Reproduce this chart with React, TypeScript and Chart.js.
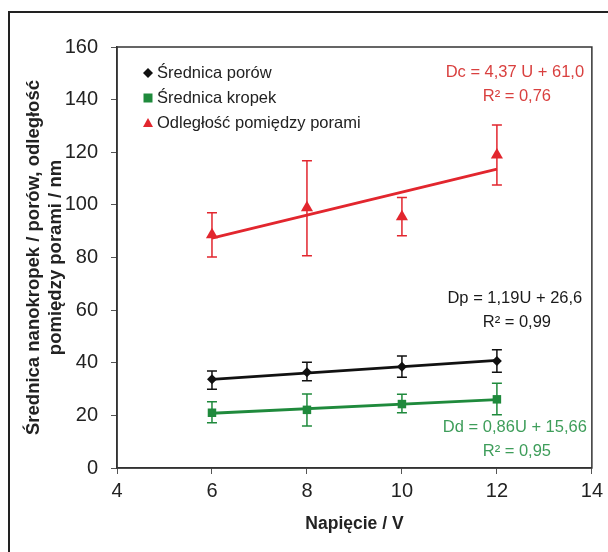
import React, { useEffect, useRef } from 'react';
import { Chart, registerables } from 'chart.js';

Chart.register(...registerables);

// ---- data ----
const voltages = [6, 8, 10, 12];

const poreMean = [33.7, 36.4, 38.5, 40.7];
const poreLow = [29.9, 33.2, 34.5, 36.4];
const poreHigh = [36.9, 40.2, 42.6, 44.9];

const dotMean = [21.0, 22.1, 24.3, 26.1];
const dotLow = [17.2, 16.0, 21.0, 20.2];
const dotHigh = [25.2, 28.1, 28.0, 32.2];

const distMean = [88.6, 98.9, 95.5, 119.0];
const distLow = [80.2, 80.7, 88.3, 107.6];
const distHigh = [97.0, 116.8, 102.8, 130.4];

const trendX = [6, 12];
const poreTrend = [33.7, 40.9];
const dotTrend = [20.8, 26.0];
const distTrend = [87.4, 113.6];

const seriesLabels = ['Średnica porów', 'Średnica kropek', 'Odległość pomiędzy porami'];
const poreEquation = ['Dp = 1,19U + 26,6', 'R² = 0,99'];
const dotEquation = ['Dd = 0,86U + 15,66', 'R² = 0,95'];
const distEquation = ['Dc = 4,37 U + 61,0', 'R² = 0,76'];

const xTitle = 'Napięcie / V';
const yTitle = ['Średnica nanokropek / porów, odległość', 'pomiędzy porami / nm'];

const xMin = 4, xMax = 14, xStep = 2;
const yMin = 0, yMax = 160, yStep = 20;

const FONT = '"Liberation Sans", Arial, sans-serif';
const BLACK = '#111111';
const GREEN = '#1f8a3c';
const RED = '#e2262e';

const pts = (xs: number[], ys: number[]) => xs.map((x, i) => ({ x, y: ys[i] }));

function drawMarker(ctx: CanvasRenderingContext2D, style: string, x: number, y: number, r: number, color: string) {
  ctx.save();
  ctx.fillStyle = color;
  ctx.beginPath();
  if (style === 'rectRot') {
    ctx.moveTo(x, y - r); ctx.lineTo(x + r, y); ctx.lineTo(x, y + r); ctx.lineTo(x - r, y);
  } else if (style === 'rect') {
    ctx.rect(x - r, y - r, 2 * r, 2 * r);
  } else {
    ctx.moveTo(x, y - r); ctx.lineTo(x + r, y + r * 0.8); ctx.lineTo(x - r, y + r * 0.8);
  }
  ctx.closePath();
  ctx.fill();
  ctx.restore();
}

const decorPlugin = {
  id: 'decor',
  beforeDatasetsDraw(chart: any) {
    const { ctx, scales } = chart;
    const xs = scales.x, ys = scales.y;
    chart.data.datasets.forEach((ds: any) => {
      if (!ds.errLow) return;
      ctx.save();
      ctx.strokeStyle = ds.errColor;
      ctx.lineWidth = 1.5;
      ds.data.forEach((p: any, i: number) => {
        const px = xs.getPixelForValue(p.x);
        const lo = ys.getPixelForValue(ds.errLow[i]);
        const hi = ys.getPixelForValue(ds.errHigh[i]);
        ctx.beginPath();
        ctx.moveTo(px, lo); ctx.lineTo(px, hi);
        ctx.moveTo(px - 5, lo); ctx.lineTo(px + 5, lo);
        ctx.moveTo(px - 5, hi); ctx.lineTo(px + 5, hi);
        ctx.stroke();
      });
      ctx.restore();
    });
  },
  afterDraw(chart: any) {
    const { ctx, chartArea } = chart;
    ctx.save();
    // outer frame
    ctx.strokeStyle = '#222';
    ctx.lineWidth = 2;
    ctx.beginPath();
    ctx.moveTo(9, 560); ctx.lineTo(9, 12); ctx.lineTo(620, 12);
    ctx.stroke();
    // plot box
    ctx.strokeStyle = '#333';
    ctx.lineWidth = 1.5;
    ctx.strokeRect(chartArea.left, chartArea.top, chartArea.right - chartArea.left, chartArea.bottom - chartArea.top);

    // legend
    ctx.font = `16.5px ${FONT}`;
    ctx.textBaseline = 'middle';
    ctx.textAlign = 'left';
    const legendX = chartArea.left + 31;
    chart.data.datasets.slice(0, 3).forEach((ds: any, i: number) => {
      const y = chartArea.top + 26 + i * 25;
      drawMarker(ctx, ds.pointStyle, legendX, y, ds.pointStyle === 'rect' ? 4.5 : 5, ds.backgroundColor);
      ctx.fillStyle = '#222';
      ctx.fillText(ds.label, legendX + 9, y);
    });

    // equations
    const eqs = [
      { lines: distEquation, color: '#d9403f', y: 72 },
      { lines: poreEquation, color: '#1a1a1a', y: 298 },
      { lines: dotEquation, color: '#3e9d5a', y: 427 },
    ];
    ctx.textAlign = 'center';
    ctx.font = `16.5px ${FONT}`;
    eqs.forEach((e) => {
      ctx.fillStyle = e.color;
      ctx.fillText(e.lines[0], chartArea.right - 77, e.y);
      ctx.fillText(e.lines[1], chartArea.right - 75, e.y + 24);
    });
    ctx.restore();
  },
};

export default function App() {
  const ref = useRef<HTMLCanvasElement | null>(null);
  useEffect(() => {
    if (!ref.current) return;
    const chart = new Chart(ref.current, {
      type: 'scatter',
      data: {
        datasets: [
          {
            label: seriesLabels[0], data: pts(voltages, poreMean), pointStyle: 'rectRot', pointRadius: 5,
            backgroundColor: BLACK, borderColor: BLACK, borderWidth: 0, showLine: false,
            errLow: poreLow, errHigh: poreHigh, errColor: BLACK,
          } as any,
          {
            label: seriesLabels[1], data: pts(voltages, dotMean), pointStyle: 'rect', pointRadius: 6,
            backgroundColor: GREEN, borderColor: GREEN, borderWidth: 0, showLine: false,
            errLow: dotLow, errHigh: dotHigh, errColor: GREEN,
          } as any,
          {
            label: seriesLabels[2], data: pts(voltages, distMean), pointStyle: 'triangle', pointRadius: 7,
            backgroundColor: RED, borderColor: RED, borderWidth: 0, showLine: false,
            errLow: distLow, errHigh: distHigh, errColor: RED,
          } as any,
          { label: 'trend Dp', data: pts(trendX, poreTrend), showLine: true, pointRadius: 0, borderColor: BLACK, borderWidth: 2.8 },
          { label: 'trend Dd', data: pts(trendX, dotTrend), showLine: true, pointRadius: 0, borderColor: GREEN, borderWidth: 2.8 },
          { label: 'trend Dc', data: pts(trendX, distTrend), showLine: true, pointRadius: 0, borderColor: RED, borderWidth: 2.8 },
        ],
      },
      options: {
        responsive: false,
        animation: false,
        devicePixelRatio: 1,
        layout: { padding: { left: 0, top: 47, right: 16, bottom: 0 } },
        plugins: { legend: { display: false }, tooltip: { enabled: false } },
        scales: {
          x: {
            type: 'linear', min: xMin, max: xMax,
            afterFit: (s: any) => { s.height = 84; },
            ticks: { stepSize: xStep, color: '#222', font: { family: FONT, size: 20 }, padding: 5 },
            grid: { display: true, drawOnChartArea: false, drawTicks: true, tickLength: 6, color: '#555' },
            border: { display: true, color: '#333', width: 1.5 },
            title: { display: true, text: xTitle, color: '#222', font: { family: FONT, size: 17.5, weight: 'bold' }, padding: { top: 0, bottom: 17 } },
          },
          y: {
            type: 'linear', min: yMin, max: yMax,
            afterFit: (s: any) => { s.width = 117; },
            ticks: { stepSize: yStep, color: '#222', font: { family: FONT, size: 20 }, padding: 13 },
            grid: { display: true, drawOnChartArea: false, drawTicks: true, tickLength: 6, color: '#555' },
            border: { display: true, color: '#333', width: 1.5 },
            title: { display: true, text: yTitle, color: '#222', font: { family: FONT, size: 18.5, weight: 'bold' }, padding: { top: 23, bottom: 0 } },
          },
        },
      },
      plugins: [decorPlugin],
    } as any);
    return () => chart.destroy();
  }, []);
  return (
    <div style={{ position: 'absolute', left: 0, top: 0, width: 608, height: 552, background: '#fff' }}>
      <canvas ref={ref} width={608} height={552} style={{ display: 'block' }} />
    </div>
  );
}
